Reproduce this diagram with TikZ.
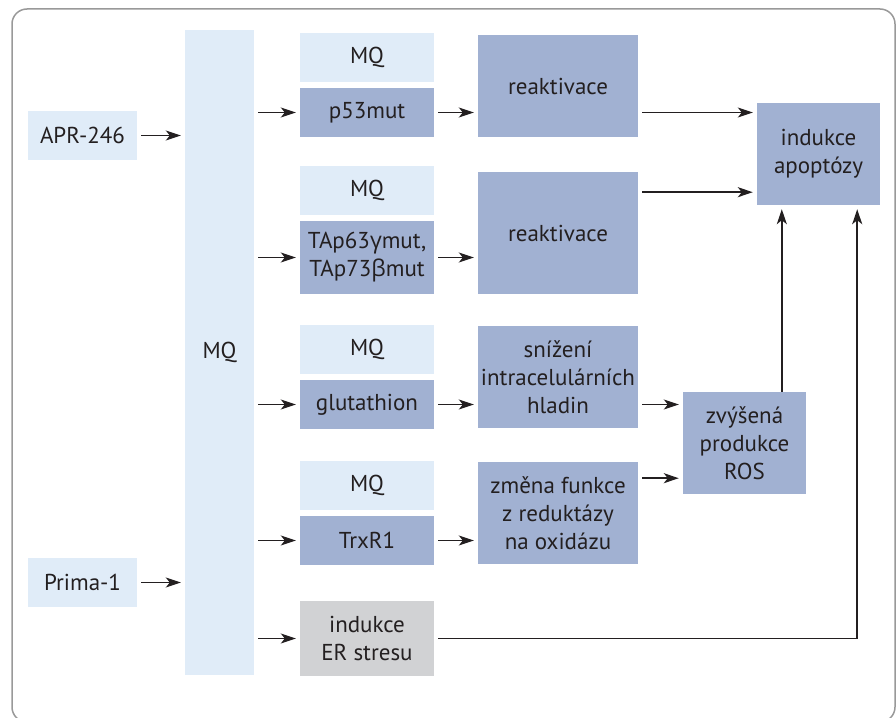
\documentclass[tikz,border=0pt]{standalone}
\usepackage{fontspec}
\setmainfont{PT Sans}
\newfontfamily\grk{Open Sans}
\usetikzlibrary{arrows.meta}
\definecolor{light}{HTML}{E0ECF8}
\definecolor{dark}{HTML}{A1B1D2}
\definecolor{grey}{HTML}{D1D2D4}
\definecolor{ink}{HTML}{231F20}

\begin{document}
\begin{tikzpicture}[x=1pt,y=-1pt,
	box/.style={inner sep=0pt,align=center,text=ink,font=\fontsize{23}{28}\selectfont},
	lbox/.style={box,fill=light},
	dbox/.style={box,fill=dark},
	gbox/.style={box,fill=grey},
	drug/.style={minimum width=109pt,minimum height=49pt},
	col/.style={minimum width=134pt,minimum height=49pt},
	res/.style={minimum width=160pt,minimum height=102pt},
	fin/.style={minimum width=123pt,minimum height=102pt},
	arr/.style={-{Stealth[length=15pt,width=10pt,inset=4pt]},line width=1.5pt,draw=ink,shorten <=4pt,shorten >=4pt}]
	\useasboundingbox (0,0) rectangle (896,717);
	\draw[rounded corners=15pt,draw=black!40,line width=1.5pt,fill=white] (12,9) rectangle (895,722);

	\node[lbox,drug] (apr) at (82.5,135.5) {APR-246};
	\node[lbox,drug] (prima) at (82.5,582.5) {Prima-1};
	\node[lbox,minimum width=69pt,minimum height=645pt] (mq) at (219.5,352.5) {MQ};

	\node[lbox,col] (mqa) at (367,57.5) {MQ};
	\node[dbox,col] (p53) at (367,112.5) {p53mut};
	\node[lbox,col] (mqb) at (367,190.5) {MQ};
	\node[dbox,col,minimum height=73pt] (tap) at (367,257.5) {TAp63{\grk γ}mut,\\TAp73{\grk β}mut};
	\node[lbox,col] (mqc) at (367,349.5) {MQ};
	\node[dbox,col] (glut) at (367,404.5) {glutathion};
	\node[lbox,col] (mqd) at (367,485.5) {MQ};
	\node[dbox,col] (trx) at (367,540.5) {TrxR1};
	\node[gbox,col,minimum height=75pt] (er) at (367,638.5) {indukce\\ER stresu};

	\node[dbox,res] (r1) at (558,86) {reaktivace};
	\node[dbox,res,minimum height=122pt] (r2) at (558,233) {reaktivace};
	\node[dbox,res] (sn) at (558,377) {snížení\\intracelulárních\\hladin};
	\node[dbox,res] (zm) at (558,513) {změna funkce\\z reduktázy\\na oxidázu};

	\node[dbox,fin] (apo) at (818.5,154) {indukce\\apoptózy};
	\node[dbox,fin] (ros) at (744.5,443) {zvýšená\\produkce\\ROS};

	\draw[arr] (apr) -- (mq.west |- apr);
	\draw[arr] (prima) -- (mq.west |- prima);
	\foreach \n in {p53,tap,glut,trx,er}
		\draw[arr] (mq.east |- \n) -- (\n);
	\foreach \a/\b in {p53/r1,tap/r2,glut/sn,trx/zm}
		\draw[arr] (\a) -- (\b.west |- \a);
	\draw[arr] (r1.east |- p53) -- (apo.west |- p53);
	\draw[arr] ([yshift=13pt]r2.east |- apo.south) -- ([yshift=13pt]apo.south west);
	\draw[arr] (sn.east |- glut) -- (ros.west |- glut);
	\draw[arr] ([yshift=16pt]zm.east |- ros.south) -- ([yshift=16pt]ros.south west);
	\draw[arr,shorten <=0pt] ([xshift=25pt]apo.south west |- ros.north) -- ([xshift=25pt]apo.south west);
	\draw[arr] (er.east) -| ([xshift=-23pt]apo.south east);
\end{tikzpicture}
\end{document}
